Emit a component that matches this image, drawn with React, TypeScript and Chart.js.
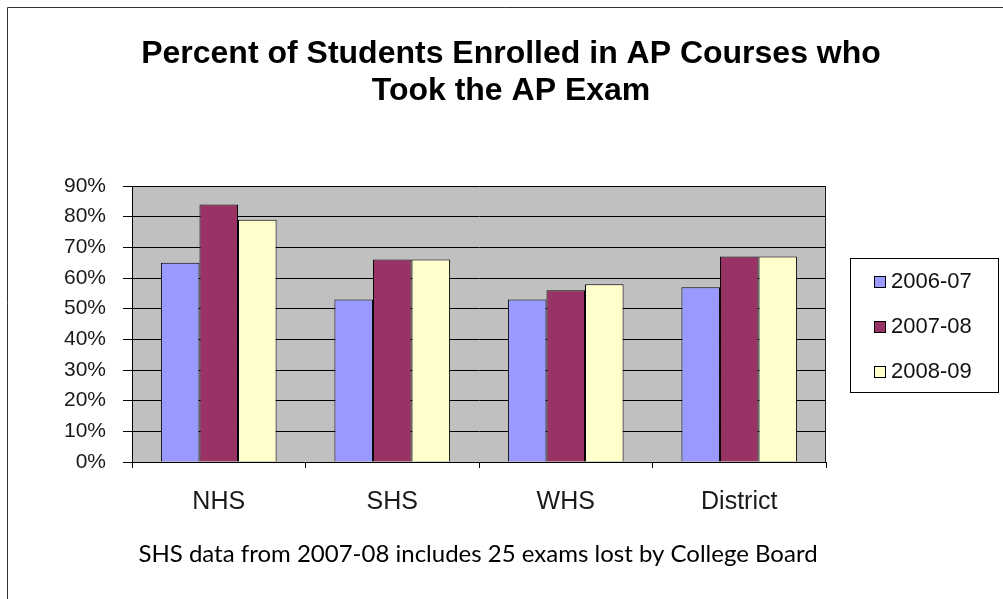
import React, { useEffect, useRef } from "react";
import { Chart, registerables } from "chart.js";

Chart.register(...registerables);

const categories = ["NHS", "SHS", "WHS", "District"];
const seriesLabels = ["2006-07", "2007-08", "2008-09"];
const values0607 = [65, 53, 53, 57];
const values0708 = [84, 66, 56, 67];
const values0809 = [79, 66, 58, 67];
const seriesColors = ["#9999FF", "#993366", "#FFFFCC"];
const yTickValues = [0, 10, 20, 30, 40, 50, 60, 70, 80, 90];
const titleLines = ["Percent of Students Enrolled in AP Courses who", "Took the AP Exam"];
const captionText = "SHS data from 2007-08 includes 25 exams lost by College Board";

const W = 1003;
const H = 599;

const decorPlugin = {
  id: "decor",
  beforeDraw(chart: any) {
    const ctx = chart.ctx;
    const a = chart.chartArea;
    ctx.save();
    ctx.fillStyle = "#ffffff";
    ctx.fillRect(0, 0, W, H);
    ctx.fillStyle = "#C0C0C0";
    ctx.fillRect(a.left, a.top, a.right - a.left, a.bottom - a.top);
    ctx.restore();
  },
  afterDraw(chart: any) {
    const ctx = chart.ctx;
    const a = chart.chartArea;
    ctx.save();
    // plot right edge
    ctx.strokeStyle = "#202020";
    ctx.lineWidth = 1;
    ctx.beginPath();
    ctx.moveTo(Math.round(a.right) - 0.5, a.top);
    ctx.lineTo(Math.round(a.right) - 0.5, a.bottom);
    ctx.stroke();
    // outer frame
    ctx.strokeStyle = "#333333";
    ctx.beginPath();
    ctx.moveTo(7.5, H);
    ctx.lineTo(7.5, 7.5);
    ctx.lineTo(W, 7.5);
    ctx.stroke();
    // title
    ctx.fillStyle = "#000000";
    ctx.textAlign = "center";
    ctx.textBaseline = "alphabetic";
    ctx.font = "bold 32px 'Liberation Sans', Arial, sans-serif";
    ctx.fillText(titleLines[0], 511, 63);
    ctx.fillText(titleLines[1], 511, 100);
    // caption
    ctx.font = "24px Lato, 'Open Sans', sans-serif";
    ctx.fillText(captionText, 478, 562);
    // legend
    const lx = 850.5, ly = 258.5, lw = 148, lh = 134;
    ctx.strokeStyle = "#000000";
    ctx.strokeRect(lx, ly, lw, lh);
    ctx.textAlign = "left";
    ctx.font = "22px 'Liberation Sans', Arial, sans-serif";
    chart.data.datasets.forEach((ds: any, i: number) => {
      const base = 288 + i * 45;
      ctx.fillStyle = ds.backgroundColor;
      ctx.fillRect(874, base - 12, 12, 12);
      ctx.strokeStyle = "#000000";
      ctx.strokeRect(874.5, base - 11.5, 11, 11);
      ctx.fillStyle = "#111111";
      ctx.fillText(ds.label, 891, base);
    });
    ctx.restore();
  },
};

export default function App() {
  const ref = useRef<HTMLCanvasElement | null>(null);
  useEffect(() => {
    document.body.style.margin = "0";
    const canvas = ref.current!;
    const chart = new Chart(canvas, {
      type: "bar",
      data: {
        labels: categories,
        datasets: [values0607, values0708, values0809].map((vals, i) => ({
          label: seriesLabels[i],
          data: vals,
          backgroundColor: seriesColors[i],
          borderColor: "#000000",
          borderWidth: 1,
          categoryPercentage: 3 / 4.5,
          barPercentage: 1,
        })),
      },
      options: {
        responsive: false,
        animation: false,
        devicePixelRatio: 1,
        layout: { padding: { top: 186, left: 0, right: W - 826, bottom: 0 } },
        plugins: {
          legend: { display: false },
          title: { display: false },
          tooltip: { enabled: false },
        },
        scales: {
          x: {
            afterFit: (s: any) => {
              s.height = H - 462;
            },
            grid: {
              display: true,
              offset: true,
              drawOnChartArea: false,
              drawTicks: true,
              tickLength: 6,
              color: "#000000",
            },
            border: { display: true, color: "#000000", width: 1 },
            ticks: {
              padding: 19,
              color: "#1a1a1a",
              font: { family: "'Liberation Sans', Arial, sans-serif", size: 25 },
            },
          },
          y: {
            min: 0,
            max: 90,
            afterFit: (s: any) => {
              s.width = 132;
            },
            afterBuildTicks: (s: any) => {
              s.ticks = yTickValues.map((v) => ({ value: v }));
            },
            grid: {
              color: "#000000",
              tickLength: 9,
              drawTicks: true,
            },
            border: { display: true, color: "#000000", width: 1 },
            ticks: {
              padding: 17,
              color: "#1a1a1a",
              font: { family: "'Liberation Sans', Arial, sans-serif", size: 21 },
              callback: (v: any) => v + "%",
            },
          },
        },
      },
      plugins: [decorPlugin],
    });
    return () => chart.destroy();
  }, []);
  return (
    <div style={{ position: "absolute", left: 0, top: 0, width: W, height: H }}>
      <canvas ref={ref} width={W} height={H} style={{ display: "block" }} />
    </div>
  );
}
